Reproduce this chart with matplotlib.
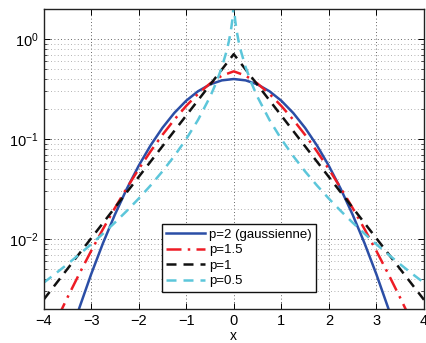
import matplotlib
matplotlib.use("Agg")
import matplotlib.pyplot as plt
from matplotlib.ticker import LogLocator, NullFormatter, FixedLocator

plt.rcParams['font.family'] = ['Liberation Sans', 'DejaVu Sans']
plt.rcParams['mathtext.default'] = 'regular'

# x positions (step 0.25) used for p=2, p=1.5, p=1
x_main = [-4.0, -3.75, -3.5, -3.25, -3.0, -2.75, -2.5, -2.25, -2.0, -1.75, -1.5, -1.25,
          -1.0, -0.75, -0.5, -0.25, 0.0, 0.25, 0.5, 0.75, 1.0, 1.25, 1.5, 1.75,
          2.0, 2.25, 2.5, 2.75, 3.0, 3.25, 3.5, 3.75, 4.0]

y_p2 = [0.0001338, 0.0003526, 0.0008727, 0.002029, 0.004432, 0.009094, 0.01753, 0.03174,
        0.05399, 0.08628, 0.1295, 0.1826, 0.2420, 0.3011, 0.3521, 0.3867, 0.3989,
        0.3867, 0.3521, 0.3011, 0.2420, 0.1826, 0.1295, 0.08628, 0.05399,
        0.03174, 0.01753, 0.009094, 0.004432, 0.002029, 0.0008727, 0.0003526, 0.0001338]

y_p15 = [0.000813, 0.001463, 0.002585, 0.004474, 0.007587, 0.01259, 0.02043, 0.03236,
         0.05002, 0.07528, 0.1102, 0.1564, 0.2146, 0.2837, 0.3591, 0.4309, 0.4760,
         0.4309, 0.3591, 0.2837, 0.2146, 0.1564, 0.1102, 0.07528, 0.05002,
         0.03236, 0.02043, 0.01259, 0.007587, 0.004474, 0.002585, 0.001463, 0.000813]

y_p1 = [0.002471, 0.003518, 0.005010, 0.007135, 0.01016, 0.01447, 0.02061, 0.02935,
        0.04180, 0.05952, 0.08477, 0.1207, 0.1719, 0.2448, 0.3487, 0.4965, 0.7071,
        0.4965, 0.3487, 0.2448, 0.1719, 0.1207, 0.08477, 0.05952, 0.04180,
        0.02935, 0.02061, 0.01447, 0.01016, 0.007135, 0.005010, 0.003518, 0.002471]

# p=0.5 needs denser samples near the cusp
x_p05 = [-4.0, -3.75, -3.5, -3.25, -3.0, -2.75, -2.5, -2.25, -2.0, -1.75, -1.5, -1.25,
         -1.0, -0.75, -0.5, -0.375, -0.25, -0.15, -0.1, -0.06, -0.03, -0.01, 0.0,
         0.01, 0.03, 0.06, 0.1, 0.15, 0.25, 0.375, 0.5, 0.75, 1.0, 1.25, 1.5, 1.75,
         2.0, 2.25, 2.5, 2.75, 3.0, 3.25, 3.5, 3.75, 4.0]
y_p05 = [0.003653, 0.004508, 0.005602, 0.007016, 0.008868, 0.01132, 0.01461, 0.01912,
         0.02539, 0.03435, 0.04754, 0.06768, 0.1000, 0.1558, 0.2637, 0.3608, 0.5234,
         0.7600, 0.9615, 1.2174, 1.5437, 1.9669, 2.7386,
         1.9669, 1.5437, 1.2174, 0.9615, 0.7600, 0.5234, 0.3608, 0.2637, 0.1558,
         0.1000, 0.06768, 0.04754, 0.03435, 0.02539, 0.01912, 0.01461, 0.01132,
         0.008868, 0.007016, 0.005602, 0.004508, 0.003653]

labels = ['p=2 (gaussienne)', 'p=1.5', 'p=1', 'p=0.5']
x_ticks = [-4, -3, -2, -1, 0, 1, 2, 3, 4]

fig = plt.figure(figsize=(4.26, 3.43), dpi=100)
ax = fig.add_axes([43.5 / 426, (343 - 309) / 343, 380.5 / 426, 300 / 343])

lw = 1.8
ax.plot(x_main, y_p2, color='#2b4ea6', lw=lw, ls='-', label=labels[0])
ax.plot(x_main, y_p15, color='#ee1c25', lw=lw, ls=(0, (6, 2.5, 1, 2.5)), label=labels[1])
ax.plot(x_main, y_p1, color='#111111', lw=lw, ls=(0, (4, 2.8)), label=labels[2])
ax.plot(x_p05, y_p05, color='#5cc6da', lw=lw, ls=(0, (4, 2.8)), label=labels[3])

ax.set_yscale('log')
ax.set_xlim(-4, 4)
ax.set_ylim(2e-3, 2)
ax.xaxis.set_major_locator(FixedLocator(x_ticks))
ax.set_xticklabels(['\u22124', '\u22123', '\u22122', '\u22121', '0', '1', '2', '3', '4'])
ax.yaxis.set_major_locator(LogLocator(base=10, numticks=10))
ax.yaxis.set_minor_locator(LogLocator(base=10, subs=range(2, 10), numticks=20))
ax.yaxis.set_minor_formatter(NullFormatter())

ax.grid(which='major', axis='both', linestyle=(0, (1, 3)), color='#333333', lw=0.6)
ax.grid(which='minor', axis='y', linestyle=(0, (1, 3)), color='#999999', lw=0.6)

ax.tick_params(which='both', direction='in', top=True, right=True, labelsize=10.5)
ax.tick_params(which='major', length=4, width=0.7)
ax.tick_params(which='minor', length=2.5, width=0.5)
for s in ax.spines.values():
    s.set_linewidth(1.0)
    s.set_color('#222222')

ax.set_xlabel('x', fontsize=10, labelpad=1)

leg = ax.legend(loc='lower left', bbox_to_anchor=(0.311, 0.057), fontsize=9.5,
                handlelength=2.9, handletextpad=0.3, borderpad=0.35,
                labelspacing=0.25, fancybox=False, framealpha=1, borderaxespad=0)
leg.get_frame().set_edgecolor('#111111')
leg.get_frame().set_linewidth(1.0)

fig.savefig('out.png', dpi=100)
